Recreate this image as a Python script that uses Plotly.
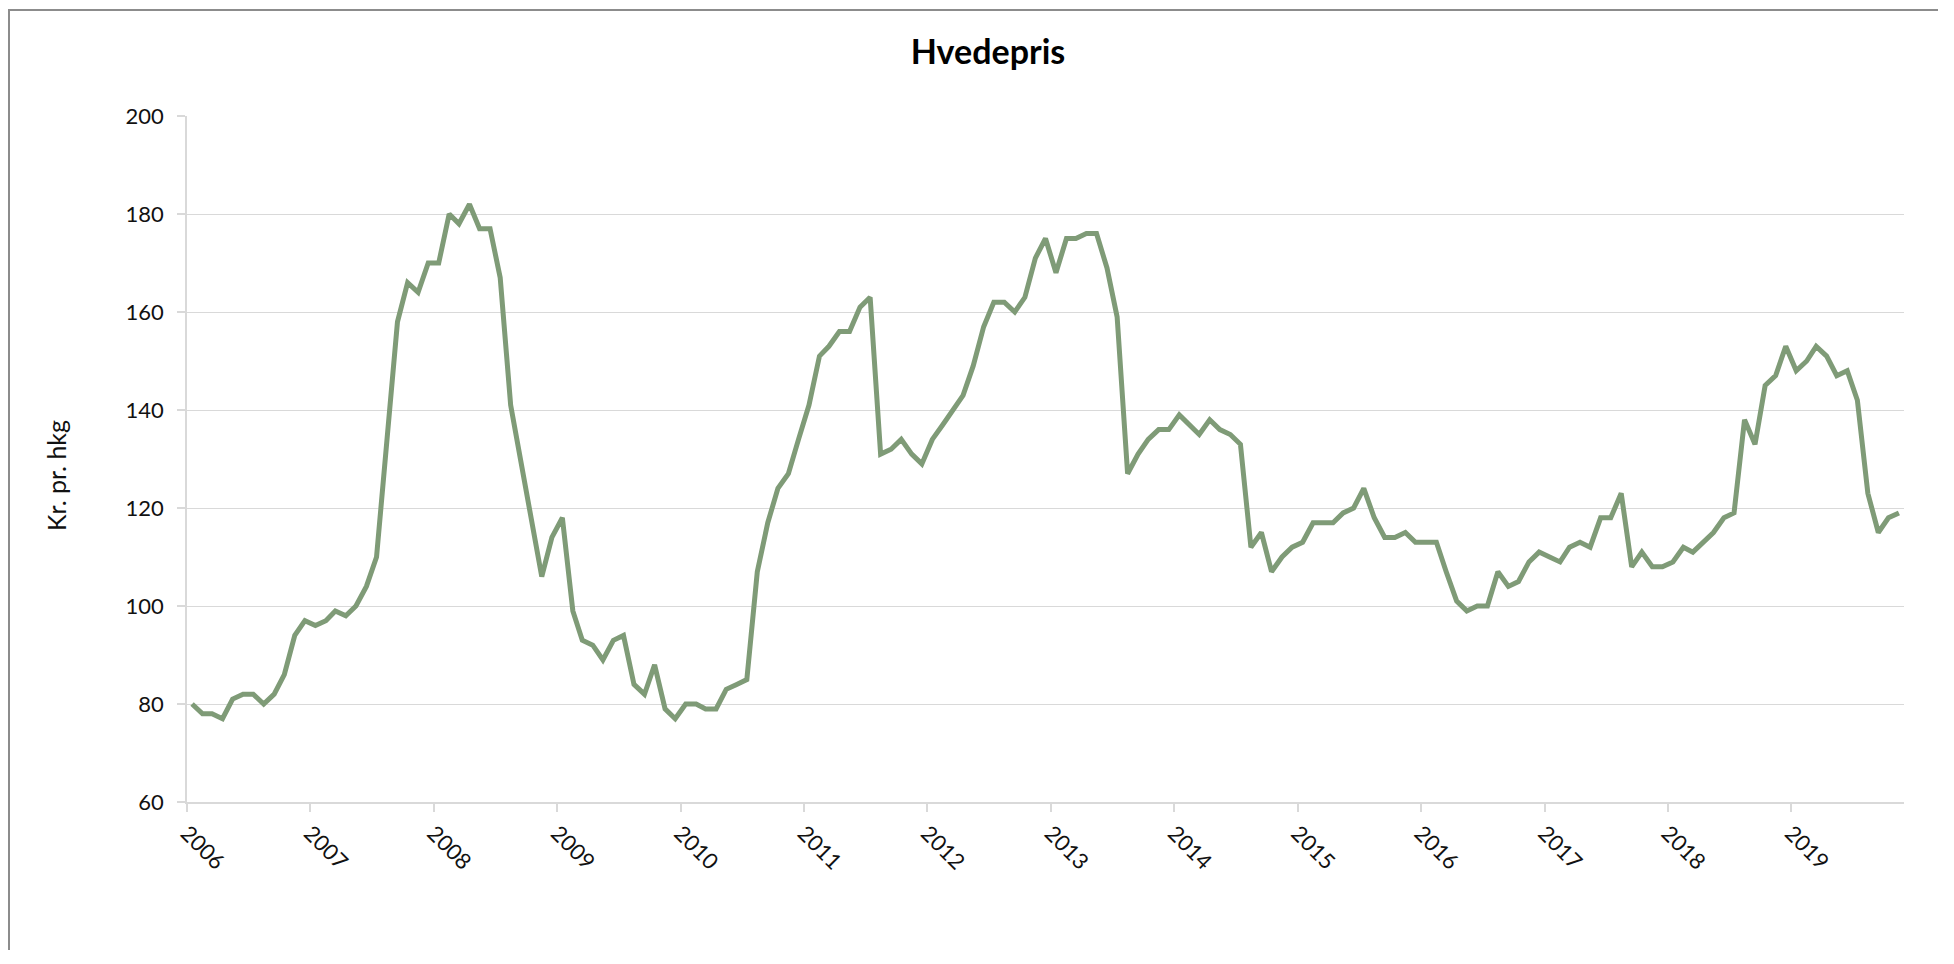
import plotly.graph_objects as go
import pandas as pd

# monthly wheat price, Jan 2006 - Nov 2019 (kr. pr. hkg)
hvedepris = [
    80, 78, 78, 77, 81, 82, 82, 80, 82, 86, 94, 97,            # 2006
    96, 97, 99, 98, 100, 104, 110, 133, 158, 166, 164, 170,    # 2007
    170, 180, 178, 182, 177, 177, 167, 141, 129, 118, 106, 114,  # 2008
    118, 99, 93, 92, 89, 93, 94, 84, 82, 88, 79, 77,           # 2009
    80, 80, 79, 79, 83, 84, 85, 107, 117, 124, 127, 134,       # 2010
    141, 151, 153, 156, 156, 161, 163, 131, 132, 134, 131, 129,  # 2011
    134, 137, 140, 143, 149, 157, 162, 162, 160, 163, 171, 175,  # 2012
    168, 175, 175, 176, 176, 169, 159, 127, 131, 134, 136, 136,  # 2013
    139, 137, 135, 138, 136, 135, 133, 112, 115, 107, 110, 112,  # 2014
    113, 117, 117, 117, 119, 120, 124, 118, 114, 114, 115, 113,  # 2015
    113, 113, 107, 101, 99, 100, 100, 107, 104, 105, 109, 111,   # 2016
    110, 109, 112, 113, 112, 118, 118, 123, 108, 111, 108, 108,  # 2017
    109, 112, 111, 113, 115, 118, 119, 138, 133, 145, 147, 153,  # 2018
    148, 150, 153, 151, 147, 148, 142, 123, 115, 118, 119,       # 2019
]
years = list(range(2006, 2020))

# text-category style: each month sits in the middle of its slot
months = pd.date_range("2006-01-01", periods=len(hvedepris), freq="MS") + pd.Timedelta(days=15)
year_ticks = [f"{y}-01-01" for y in years]

# page body adds 8px all round; keep the figure a bit smaller so no scrollbars show
W, H = 1930, 942
L, R, T, B = 179, 34, 108, 148
pw, ph = W - L - R, H - T - B


def px_x(p):
    return (p - L) / pw


def px_y(p):
    return (H - B - p) / ph


grid = "#d9d9d9"
font = "Lato, 'Open Sans', sans-serif"

fig = go.Figure()
fig.add_trace(go.Scatter(
    x=months, y=hvedepris, mode="lines",
    line=dict(color="#7f9b77", width=5),
    hoverinfo="x+y", showlegend=False,
))

fig.update_layout(
    width=W, height=H,
    margin=dict(l=L, r=R, t=T, b=B),
    paper_bgcolor="white", plot_bgcolor="white",
    font=dict(family=font, color="#111111"),
    title=dict(
        text="<b>Hvedepris</b>", font=dict(size=34, color="#000000"),
        x=980 / W, xref="container", xanchor="center",
        y=1 - 44 / H, yref="container", yanchor="middle",
    ),
    xaxis=dict(
        type="date",
        range=["2006-01-01", "2019-12-01"],
        tickvals=year_ticks, ticktext=[str(y) for y in years],
        tickangle=45, tickfont=dict(size=22),
        showgrid=False, zeroline=False,
        showline=True, linecolor=grid, linewidth=1.5,
        ticks="outside", ticklen=8, tickcolor=grid, tickwidth=1.5,
    ),
    yaxis=dict(
        range=[60, 200], dtick=20, tick0=60,
        tickfont=dict(size=22),
        showgrid=True, gridcolor=grid, gridwidth=1.4, zeroline=False,
        showline=True, linecolor=grid, linewidth=1.5,
        ticks="outside", ticklen=8, tickcolor=grid, tickwidth=1.5,
        ticklabelstandoff=9,
    ),
    annotations=[
        dict(
            text="Kr. pr. hkg", textangle=-90, showarrow=False,
            xref="paper", yref="paper",
            x=px_x(48), y=px_y(468),
            xanchor="center", yanchor="middle",
            font=dict(size=25, color="#111111"),
        ),
        # chart-area frame: a big empty box whose right and bottom edges lie off the page
        dict(
            text=" ", showarrow=False,
            xref="paper", yref="paper",
            x=px_x(0), y=px_y(1),
            xanchor="left", yanchor="top",
            width=W + 60, height=H + 60,
            bordercolor="#8c8c8c", borderwidth=2, borderpad=0,
        ),
    ],
)

fig.write_html("out.html")
